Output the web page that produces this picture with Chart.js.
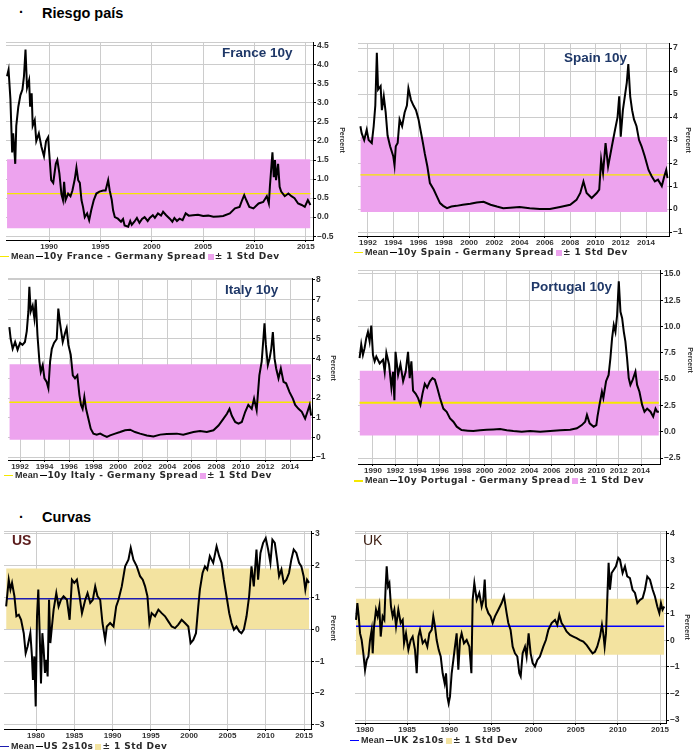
<!DOCTYPE html>
<html>
<head>
<meta charset="utf-8">
<script src="https://cdn.jsdelivr.net/npm/chart.js@4.4.1/dist/chart.umd.min.js"></script>
<style>
body { margin: 0; width: 698px; height: 753px; position: relative; overflow: hidden; background: #fff; font-family: "Liberation Sans", Arial, sans-serif; }
canvas { position: absolute; }
.head { position: absolute; font-weight: bold; font-size: 14.5px; color: #000; line-height: 1; white-space: nowrap; }
.ttl { position: absolute; font-weight: bold; font-size: 13.5px; color: #1f3868; white-space: nowrap; line-height: 1; }
.leg { position: absolute; font-family: "DejaVu Sans", sans-serif; font-weight: bold; font-size: 9px; letter-spacing: 0.45px; color: #2a2a2a; white-space: nowrap; line-height: 1; }
.leg b { font-family: "Liberation Sans", Arial, sans-serif; font-size: 9px; letter-spacing: 0.1px; margin: 0 2px; }
.leg i { display: inline-block; vertical-align: middle; }
.leg i.ln { width: 9px; height: 1.5px; }
.leg i.sq { width: 6px; height: 6px; margin: 0 1px 0 2px; }
.pct { position: absolute; font-size: 7px; font-weight: bold; color: #333; line-height: 1; transform: translate(-50%, -50%) rotate(90deg); }
</style>
</head>
<body>
<div class="head" style="left:19px;top:5px">·</div>
<div class="head" style="left:42px;top:6px">Riesgo país</div>
<div class="head" style="left:19px;top:510px">·</div>
<div class="head" style="left:42px;top:510px">Curvas</div>

<canvas id="france"></canvas>
<canvas id="spain"></canvas>
<canvas id="italy"></canvas>
<canvas id="portugal"></canvas>
<canvas id="us"></canvas>
<canvas id="uk"></canvas>

<div class="ttl" style="left:222px;top:46px">France 10y</div>
<div class="ttl" style="left:564px;top:51px">Spain 10y</div>
<div class="ttl" style="left:225px;top:283px">Italy 10y</div>
<div class="ttl" style="left:531px;top:280px">Portugal 10y</div>
<div class="ttl" style="left:12px;top:533px;color:#5b1c1c;font-size:14px">US</div>
<div class="ttl" style="left:363px;top:533px;color:#3b1c10;font-size:14px;font-weight:normal">UK</div>

<div class="pct" style="left:342px;top:140px">Percent</div>
<div class="pct" style="left:688px;top:140px">Percent</div>
<div class="pct" style="left:333px;top:368px">Percent</div>
<div class="pct" style="left:690px;top:360px">Percent</div>
<div class="pct" style="left:333px;top:628px">Percent</div>
<div class="pct" style="left:687px;top:627px">Percent</div>

<div class="leg" style="left:0;top:252px"><i class="ln" style="height:1px;background:#f5e800"></i><b>Mean</b><i class="ln" style="width:7px;background:#000"></i>10y France - Germany Spread<i class="sq" style="background:#eda3ee"></i>± 1 Std Dev</div>
<div class="leg" style="left:354px;top:248px"><i class="ln" style="height:1px;background:#f5e800"></i><b>Mean</b><i class="ln" style="width:7px;background:#000"></i>10y Spain - Germany Spread<i class="sq" style="background:#eda3ee"></i>± 1 Std Dev</div>
<div class="leg" style="left:4px;top:471px"><i class="ln" style="background:#f5e800"></i><b>Mean</b><i class="ln" style="width:7px;background:#000"></i>10y Italy - Germany Spread<i class="sq" style="background:#eda3ee"></i>± 1 Std Dev</div>
<div class="leg" style="left:354px;top:476px"><i class="ln" style="height:2px;background:#f5e800"></i><b>Mean</b><i class="ln" style="width:7px;background:#000"></i>10y Portugal - Germany Spread<i class="sq" style="background:#eda3ee"></i>± 1 Std Dev</div>
<div class="leg" style="left:0;top:742px"><i class="ln" style="background:#1c1cb0"></i><b>Mean</b><i class="ln" style="width:7px;background:#000"></i>US 2s10s<i class="sq" style="background:#f3e3a0"></i>± 1 Std Dev</div>
<div class="leg" style="left:350px;top:736px"><i class="ln" style="background:#0000ff"></i><b>Mean</b><i class="ln" style="width:7px;background:#000"></i>UK 2s10s<i class="sq" style="background:#f3e3a0"></i>± 1 Std Dev</div>

<script>
// ---- data: [year, value] ----
const franceSpread = [[1985.9,3.7],[1986.05,3.87],[1986.23,3.1],[1986.4,1.7],[1986.5,2.2],[1986.7,1.4],[1986.8,2.4],[1987.0,2.9],[1987.2,3.2],[1987.4,3.35],[1987.55,3.7],[1987.7,4.4],[1987.85,3.4],[1988.05,3.6],[1988.15,2.9],[1988.3,3.25],[1988.4,2.4],[1988.6,2.55],[1988.75,2.0],[1989.0,2.2],[1989.25,1.85],[1989.5,1.6],[1989.7,2.0],[1989.9,2.1],[1990.06,1.5],[1990.2,0.97],[1990.4,0.9],[1990.65,1.4],[1990.8,1.5],[1991.0,1.15],[1991.2,0.6],[1991.35,0.45],[1991.46,0.93],[1991.6,0.45],[1991.85,0.62],[1992.08,0.55],[1992.27,0.7],[1992.5,1.0],[1992.66,1.3],[1992.83,0.97],[1992.99,0.9],[1993.15,0.45],[1993.3,0.27],[1993.47,0.0],[1993.7,0.1],[1993.9,-0.08],[1994.1,0.18],[1994.35,0.45],[1994.6,0.62],[1994.9,0.67],[1995.26,0.7],[1995.5,0.7],[1995.75,0.97],[1995.9,0.7],[1996.1,0.45],[1996.23,0.18],[1996.4,0.0],[1996.7,-0.04],[1997.0,-0.12],[1997.2,-0.05],[1997.35,-0.22],[1997.7,-0.25],[1997.9,-0.1],[1998.05,-0.2],[1998.3,-0.12],[1998.55,-0.02],[1998.8,-0.15],[1999.05,-0.05],[1999.3,0.0],[1999.6,-0.1],[1999.8,-0.02],[2000.1,0.05],[2000.3,-0.02],[2000.6,0.1],[2000.9,0.04],[2001.1,0.14],[2001.4,0.05],[2001.75,-0.04],[2002.0,-0.12],[2002.2,-0.02],[2002.45,-0.1],[2002.7,-0.04],[2003.0,-0.08],[2003.3,0.1],[2003.6,0.04],[2004.0,0.05],[2004.5,0.06],[2005.0,0.03],[2005.5,0.04],[2006.0,0.01],[2006.5,0.02],[2006.95,0.03],[2007.6,0.1],[2008.1,0.23],[2008.55,0.27],[2008.8,0.45],[2009.0,0.58],[2009.2,0.45],[2009.5,0.27],[2009.9,0.23],[2010.4,0.36],[2010.85,0.4],[2011.2,0.55],[2011.4,0.36],[2011.5,0.8],[2011.75,1.7],[2011.88,1.05],[2012.0,1.5],[2012.1,0.97],[2012.3,1.4],[2012.45,0.8],[2012.6,0.67],[2012.95,0.55],[2013.3,0.62],[2013.6,0.55],[2013.9,0.5],[2014.25,0.36],[2014.6,0.32],[2014.9,0.27],[2015.2,0.45],[2015.45,0.32]];

const spainSpread = [[1991.4,3.6],[1991.5,3.3],[1991.7,3.0],[1991.9,3.45],[1992.05,3.0],[1992.3,2.87],[1992.45,3.6],[1992.58,4.5],[1992.7,6.8],[1992.8,5.2],[1993.0,5.35],[1993.1,4.3],[1993.25,4.9],[1993.4,4.2],[1993.55,3.2],[1993.75,2.73],[1994.0,2.3],[1994.1,1.9],[1994.2,2.73],[1994.35,2.87],[1994.5,3.9],[1994.7,3.6],[1994.9,4.2],[1995.08,4.5],[1995.2,5.25],[1995.4,4.75],[1995.6,4.5],[1995.8,4.3],[1996.0,3.9],[1996.1,3.6],[1996.35,2.87],[1996.5,2.4],[1996.7,1.85],[1996.9,1.13],[1997.2,0.85],[1997.45,0.55],[1997.7,0.26],[1997.95,0.14],[1998.25,0.04],[1998.6,0.11],[1999.0,0.14],[1999.5,0.19],[2000.1,0.23],[2000.6,0.29],[2001.15,0.32],[2001.7,0.19],[2002.2,0.11],[2002.7,0.04],[2003.25,0.06],[2004.0,0.09],[2004.8,0.04],[2005.6,0.0],[2006.4,0.0],[2007.2,0.09],[2008.0,0.19],[2008.5,0.4],[2008.8,0.7],[2009.05,1.2],[2009.3,0.7],[2009.7,0.48],[2010.1,0.7],[2010.3,0.85],[2010.45,2.15],[2010.6,1.57],[2010.8,2.87],[2011.0,1.85],[2011.3,2.73],[2011.55,3.45],[2011.75,4.0],[2011.88,4.9],[2012.0,3.15],[2012.17,4.3],[2012.35,5.0],[2012.48,5.5],[2012.6,6.3],[2012.75,4.9],[2012.9,4.3],[2013.05,3.9],[2013.25,3.6],[2013.45,3.0],[2013.65,2.73],[2013.9,2.3],[2014.2,1.7],[2014.45,1.43],[2014.7,1.2],[2014.95,1.28],[2015.25,1.0],[2015.45,1.43],[2015.6,1.7],[2015.7,1.35]];

const italySpread = [[1991.13,5.6],[1991.24,5.0],[1991.4,4.5],[1991.6,4.85],[1991.8,4.45],[1992.0,4.8],[1992.2,4.7],[1992.4,4.85],[1992.55,5.4],[1992.68,6.4],[1992.76,7.65],[1992.87,6.4],[1993.03,6.7],[1993.17,6.05],[1993.28,7.0],[1993.42,5.2],[1993.58,3.85],[1993.69,3.33],[1993.85,3.67],[1993.99,3.0],[1994.17,2.82],[1994.31,2.5],[1994.45,3.85],[1994.59,4.5],[1994.77,4.8],[1994.99,5.0],[1995.12,6.55],[1995.26,5.8],[1995.48,4.85],[1995.67,5.3],[1995.8,5.55],[1995.94,4.7],[1996.13,4.2],[1996.3,3.15],[1996.48,3.0],[1996.67,3.15],[1996.84,2.15],[1996.97,1.65],[1997.1,1.45],[1997.24,2.05],[1997.38,1.45],[1997.57,0.95],[1997.76,0.44],[1997.98,0.19],[1998.25,0.14],[1998.53,0.19],[1998.8,0.1],[1999.08,0.02],[1999.34,0.1],[1999.75,0.19],[2000.15,0.27],[2000.56,0.36],[2000.97,0.39],[2001.37,0.27],[2001.78,0.19],[2002.33,0.1],[2002.87,0.05],[2003.42,0.14],[2003.96,0.17],[2004.78,0.19],[2005.3,0.14],[2006.13,0.27],[2006.67,0.32],[2007.22,0.27],[2007.76,0.36],[2008.17,0.6],[2008.58,0.95],[2008.86,1.2],[2009.07,1.45],[2009.26,1.1],[2009.53,0.78],[2009.8,0.7],[2010.07,0.78],[2010.35,1.3],[2010.6,1.65],[2010.88,1.45],[2011.07,1.97],[2011.28,1.38],[2011.5,3.15],[2011.69,3.85],[2011.84,5.1],[2011.92,5.8],[2012.03,4.7],[2012.19,3.67],[2012.33,4.0],[2012.47,4.5],[2012.6,5.35],[2012.74,4.0],[2012.87,3.5],[2013.06,3.0],[2013.25,3.5],[2013.47,2.82],[2013.68,2.75],[2013.96,2.3],[2014.23,1.97],[2014.42,1.65],[2014.69,1.45],[2014.96,1.3],[2015.23,0.95],[2015.42,1.3],[2015.6,1.65],[2015.72,1.1]];

const portugalSpread = [[1988.8,7.0],[1988.95,8.3],[1989.1,7.3],[1989.25,7.95],[1989.4,8.9],[1989.55,9.5],[1989.7,8.6],[1989.85,10.1],[1990.0,7.3],[1990.15,6.7],[1990.3,7.15],[1990.6,6.5],[1990.9,6.85],[1991.05,5.7],[1991.2,7.5],[1991.44,6.4],[1991.65,4.2],[1991.8,5.7],[1991.92,3.0],[1992.02,7.6],[1992.25,5.4],[1992.46,6.4],[1992.7,4.8],[1992.93,5.7],[1993.14,7.6],[1993.29,5.1],[1993.44,6.7],[1993.59,3.9],[1993.83,3.6],[1994.04,3.2],[1994.25,2.55],[1994.43,3.6],[1994.64,4.55],[1994.85,4.2],[1995.1,4.8],[1995.33,5.1],[1995.54,4.95],[1995.75,4.2],[1996.0,3.2],[1996.3,2.2],[1996.6,1.9],[1996.9,1.27],[1997.2,0.95],[1997.5,0.48],[1997.93,0.16],[1998.5,0.1],[1998.98,0.06],[1999.6,0.13],[2000.18,0.19],[2000.78,0.22],[2001.38,0.25],[2001.98,0.13],[2002.57,0.06],[2003.32,0.0],[2004.07,0.06],[2004.97,0.0],[2005.87,0.06],[2006.77,0.13],[2007.66,0.19],[2008.26,0.32],[2008.7,0.63],[2009.0,0.95],[2009.16,1.6],[2009.4,0.8],[2009.76,0.48],[2010.0,0.63],[2010.1,1.43],[2010.28,2.55],[2010.5,3.8],[2010.63,3.2],[2010.87,4.8],[2011.1,5.4],[2011.26,7.0],[2011.41,8.9],[2011.56,10.15],[2011.71,9.5],[2011.86,11.1],[2012.01,14.3],[2012.16,11.4],[2012.31,10.8],[2012.46,9.5],[2012.6,8.6],[2012.75,7.0],[2012.9,5.1],[2013.05,4.45],[2013.26,4.95],[2013.5,5.7],[2013.65,4.45],[2013.86,3.8],[2014.1,2.55],[2014.31,1.9],[2014.55,2.2],[2014.85,1.9],[2015.09,1.43],[2015.3,2.2],[2015.45,1.9],[2015.6,1.9]];

const usCurve = [[1976.1,0.72],[1976.44,1.56],[1976.66,1.25],[1976.87,1.46],[1977.18,1.04],[1977.44,0.41],[1977.75,0.46],[1978.05,0.3],[1978.4,-0.12],[1978.65,-0.75],[1978.9,-0.54],[1979.26,-0.12],[1979.47,-0.85],[1979.6,-1.59],[1979.78,-0.85],[1979.96,-2.42],[1980.13,0.41],[1980.3,1.25],[1980.48,-0.12],[1980.65,-1.7],[1980.83,-0.12],[1981.0,-0.64],[1981.17,-1.37],[1981.35,-0.96],[1981.52,-1.48],[1981.7,0.93],[1981.87,-0.43],[1982.08,0.09],[1982.3,0.62],[1982.65,1.14],[1982.95,0.72],[1983.26,0.93],[1983.6,1.04],[1984.04,0.93],[1984.39,0.3],[1984.69,1.56],[1985.0,1.46],[1985.34,1.56],[1985.69,1.04],[1986.0,0.51],[1986.43,0.93],[1986.73,1.14],[1987.08,0.83],[1987.42,0.93],[1987.73,1.35],[1988.03,1.04],[1988.38,0.93],[1988.68,0.2],[1989.03,-0.33],[1989.25,0.09],[1989.68,0.2],[1990.12,0.09],[1990.47,0.72],[1990.77,0.93],[1991.2,1.35],[1991.64,1.98],[1992.07,2.19],[1992.37,2.56],[1992.72,2.19],[1993.16,1.98],[1993.59,1.67],[1993.94,1.56],[1994.24,1.35],[1994.55,1.04],[1994.81,0.2],[1995.1,0.51],[1995.54,0.41],[1995.98,0.62],[1996.41,0.51],[1996.85,0.41],[1997.28,0.25],[1997.72,0.09],[1998.15,0.04],[1998.58,0.15],[1999.02,0.3],[1999.45,0.2],[1999.89,0.09],[2000.19,-0.43],[2000.54,-0.33],[2000.89,-0.12],[2001.19,0.72],[2001.4,1.25],[2001.75,1.77],[2002.06,1.98],[2002.36,1.88],[2002.7,2.3],[2003.14,2.09],[2003.58,2.61],[2003.92,2.3],[2004.23,2.09],[2004.53,1.56],[2004.88,1.04],[2005.23,0.51],[2005.53,0.2],[2005.84,-0.01],[2006.18,0.09],[2006.53,-0.06],[2006.83,-0.12],[2007.14,-0.01],[2007.49,0.41],[2007.83,1.04],[2008.14,1.98],[2008.44,1.35],[2008.79,2.51],[2009.0,1.56],[2009.31,2.4],[2009.66,2.72],[2010.0,2.87],[2010.31,2.51],[2010.61,2.09],[2010.87,2.82],[2011.18,2.72],[2011.48,2.19],[2011.74,1.67],[2012.05,1.88],[2012.35,1.46],[2012.7,1.56],[2013.04,1.77],[2013.34,2.19],[2013.65,2.51],[2014.0,2.4],[2014.35,2.09],[2014.65,1.98],[2014.95,1.67],[2015.17,1.25],[2015.39,1.56],[2015.65,1.46]];

const ukCurve = [[1978.93,0.77],[1979.09,1.4],[1979.25,0.9],[1979.41,0.26],[1979.6,0.01],[1979.8,-0.49],[1980.0,-1.11],[1980.2,-0.74],[1980.4,-0.61],[1980.59,0.01],[1980.79,0.39],[1980.91,-0.49],[1981.07,0.52],[1981.3,1.15],[1981.5,0.9],[1981.7,1.27],[1981.86,0.14],[1982.09,0.9],[1982.29,0.77],[1982.45,2.03],[1982.57,2.78],[1982.73,2.03],[1982.89,2.15],[1983.08,1.27],[1983.28,0.9],[1983.48,1.15],[1983.68,0.52],[1983.95,1.15],[1984.23,0.65],[1984.47,0.77],[1984.63,-0.11],[1984.86,0.26],[1985.14,-0.36],[1985.42,0.01],[1985.65,0.14],[1985.93,-0.36],[1986.13,-1.24],[1986.33,0.14],[1986.52,0.39],[1986.84,-0.11],[1987.12,0.01],[1987.39,-0.24],[1987.63,0.26],[1987.91,0.39],[1988.1,0.9],[1988.3,0.52],[1988.5,0.01],[1988.74,-0.36],[1988.98,-0.61],[1989.21,-1.24],[1989.45,-1.62],[1989.61,-1.24],[1989.77,-2.12],[1989.92,-2.37],[1990.08,-2.12],[1990.28,-1.24],[1990.48,-0.74],[1990.67,-0.24],[1990.87,0.26],[1991.07,-1.11],[1991.27,0.01],[1991.46,0.26],[1991.74,-0.11],[1992.06,0.01],[1992.38,-0.24],[1992.62,-1.24],[1992.77,1.52],[1992.97,2.15],[1993.25,1.52],[1993.56,1.78],[1993.84,1.27],[1994.03,1.52],[1994.2,2.28],[1994.35,1.27],[1994.63,1.02],[1994.9,0.9],[1995.14,0.65],[1995.42,0.9],[1995.82,1.15],[1996.21,1.4],[1996.49,1.65],[1996.8,1.02],[1997.0,0.65],[1997.27,0.39],[1997.52,-0.24],[1997.79,-0.49],[1998.07,-0.61],[1998.31,-1.24],[1998.47,-1.36],[1998.7,-0.49],[1998.98,-0.24],[1999.17,-0.61],[1999.41,0.26],[1999.65,-0.49],[1999.89,-0.86],[2000.16,-0.99],[2000.44,-0.74],[2000.75,-0.61],[2001.15,-0.24],[2001.46,0.01],[2001.75,0.39],[2002.14,0.65],[2002.54,0.77],[2002.81,0.58],[2003.05,0.96],[2003.32,0.65],[2003.6,0.52],[2003.91,0.33],[2004.32,0.2],[2004.71,0.14],[2005.1,0.08],[2005.5,0.01],[2005.9,-0.05],[2006.3,-0.18],[2006.69,-0.36],[2007.0,-0.49],[2007.28,-0.43],[2007.55,-0.24],[2007.88,0.14],[2008.11,0.58],[2008.27,0.26],[2008.43,-0.24],[2008.59,0.26],[2008.74,1.52],[2008.9,2.91],[2009.06,1.9],[2009.26,2.53],[2009.53,2.66],[2009.77,2.78],[2010.05,3.1],[2010.25,3.03],[2010.56,2.53],[2010.84,2.78],[2011.11,2.4],[2011.43,2.34],[2011.74,1.9],[2012.03,1.78],[2012.31,1.4],[2012.62,1.52],[2012.94,1.59],[2013.21,1.9],[2013.49,2.4],[2013.81,2.28],[2014.13,1.9],[2014.4,1.65],[2014.68,1.27],[2014.92,1.02],[2015.11,1.4],[2015.3,1.15],[2015.5,1.27]];

// mean and +/- 1 std dev band [low, high]
const franceMean = 0.62, franceBand = [-0.29, 1.52];
const spainMean = 1.49, spainBand = [-0.13, 3.13];
const italyMean = 1.79, italyBand = [-0.12, 3.72];
const portugalMean = 2.76, portugalBand = [-0.37, 5.79];
const usMean = 0.96, usBand = [0.01, 1.91];
const ukMean = 0.53, ukBand = [-0.54, 1.56];

// tick values
const franceXTicks = [1990, 1995, 2000, 2005, 2010, 2015];
const franceYTicks = [-0.5, 0, 0.5, 1, 1.5, 2, 2.5, 3, 3.5, 4, 4.5];
const euroXTicks = [1992, 1994, 1996, 1998, 2000, 2002, 2004, 2006, 2008, 2010, 2012, 2014];
const spainYTicks = [-1, 0, 1, 2, 3, 4, 5, 6, 7];
const italyYTicks = [-1, 0, 1, 2, 3, 4, 5, 6, 7, 8];
const portugalXTicks = [1990, 1992, 1994, 1996, 1998, 2000, 2002, 2004, 2006, 2008, 2010, 2012, 2014];
const portugalYTicks = [-2.5, 0, 2.5, 5, 7.5, 10, 12.5, 15];
const curveXTicks = [1980, 1985, 1990, 1995, 2000, 2005, 2010, 2015];
const usYTicks = [-3, -2, -1, 0, 1, 2, 3];
const ukYTicks = [-3, -2, -1, 0, 1, 2, 3, 4];

const PAD = 10, Y_AXIS_W = 30, X_AXIS_H = 14;

const topLine = {
    id: "topLine",
    beforeDatasetsDraw(chart) {
        const a = chart.chartArea, ctx = chart.ctx;
        ctx.save();
        ctx.strokeStyle = "#cccccc";
        ctx.lineWidth = 1;
        ctx.beginPath();
        ctx.moveTo(a.left, a.top + 0.5);
        ctx.lineTo(a.right, a.top + 0.5);
        ctx.stroke();
        ctx.restore();
    }
};

function fmt(v, dec) {
    return v.toFixed(dec).replace("-", "\u2013");
}

function drawPanel(id, p) {
    const canvas = document.getElementById(id);
    const w = (p.right - p.left) + Y_AXIS_W + 2 * PAD;
    const h = (p.bottom - p.top) + X_AXIS_H + 2 * PAD;
    canvas.width = w;
    canvas.height = h;
    canvas.style.left = (p.left - PAD) + "px";
    canvas.style.top = (p.top - PAD) + "px";

    const x0 = p.series[0][0], x1 = p.series[p.series.length - 1][0];

    new Chart(canvas, {
        type: "line",
        data: {
            datasets: [
                {
                    data: p.series.map(d => ({ x: d[0], y: d[1] })),
                    borderColor: "#000", borderWidth: 2, pointRadius: 0, fill: false, tension: 0
                },
                {
                    data: [{ x: x0, y: p.mean }, { x: x1, y: p.mean }],
                    borderColor: p.meanColor, borderWidth: p.meanWidth, pointRadius: 0, fill: false
                },
                {
                    data: [{ x: x0, y: p.band[1] }, { x: x1, y: p.band[1] }],
                    borderColor: "rgba(0,0,0,0)", borderWidth: 0, pointRadius: 0,
                    backgroundColor: p.bandColor, fill: { value: p.band[0] }
                }
            ]
        },
        options: {
            responsive: false,
            animation: false,
            events: [],
            layout: { padding: PAD },
            plugins: { legend: { display: false }, tooltip: { enabled: false } },
            scales: {
                x: {
                    type: "linear", min: p.xMin, max: p.xMax,
                    afterBuildTicks: s => { s.ticks = p.xTicks.map(v => ({ value: v })); },
                    afterFit: s => { s.height = X_AXIS_H; },
                    grid: { color: "#cccccc", tickColor: "#000", tickLength: 2 },
                    border: { color: "#000" },
                    ticks: {
                        font: { family: "Liberation Sans", size: 8, weight: "bold" }, color: "#333",
                        padding: 0, maxRotation: 0, autoSkip: false, callback: v => String(v)
                    }
                },
                y: {
                    position: "right", min: p.yMin, max: p.yMax,
                    afterBuildTicks: s => { s.ticks = p.yTicks.map(v => ({ value: v })); },
                    afterFit: s => { s.width = Y_AXIS_W; },
                    grid: { color: "#cccccc", tickColor: "#000", tickLength: 3 },
                    border: { color: "#000" },
                    ticks: {
                        font: { family: "Liberation Sans", size: 8.5, weight: "bold" }, color: "#333",
                        padding: 1, autoSkip: false, callback: v => fmt(v, p.dec)
                    }
                }
            }
        },
        plugins: [topLine]
    });
}

const PINK = "#eda3ee", SAND = "#f3e3a0", YELLOW = "#f5e800";

drawPanel("france", { left: 6, right: 313, top: 42, bottom: 240, xMin: 1985.8, xMax: 2015.7, yMin: -0.6, yMax: 4.6,
    series: franceSpread, mean: franceMean, band: franceBand, xTicks: franceXTicks, yTicks: franceYTicks, dec: 1,
    meanColor: YELLOW, meanWidth: 1.2, bandColor: PINK });
drawPanel("spain", { left: 358, right: 669, top: 43, bottom: 236, xMin: 1991.21, xMax: 2015.82, yMin: -1.17, yMax: 7.22,
    series: spainSpread, mean: spainMean, band: spainBand, xTicks: euroXTicks, yTicks: spainYTicks, dec: 0,
    meanColor: YELLOW, meanWidth: 1.2, bandColor: PINK });
drawPanel("italy", { left: 8, right: 312, top: 278, bottom: 460, xMin: 1991.02, xMax: 2015.79, yMin: -1.15, yMax: 8.1,
    series: italySpread, mean: italyMean, band: italyBand, xTicks: euroXTicks, yTicks: italyYTicks, dec: 0,
    meanColor: YELLOW, meanWidth: 1.5, bandColor: PINK });
drawPanel("portugal", { left: 358, right: 660, top: 270, bottom: 464, xMin: 1988.66, xMax: 2015.7, yMin: -3.07, yMax: 15.38,
    series: portugalSpread, mean: portugalMean, band: portugalBand, xTicks: portugalXTicks, yTicks: portugalYTicks, dec: 1,
    meanColor: YELLOW, meanWidth: 2, bandColor: PINK });
drawPanel("us", { left: 4, right: 311, top: 531, bottom: 729, xMin: 1975.82, xMax: 2015.91, yMin: -3.13, yMax: 3.09,
    series: usCurve, mean: usMean, band: usBand, xTicks: curveXTicks, yTicks: usYTicks, dec: 0,
    meanColor: "#1c1cb0", meanWidth: 1.5, bandColor: SAND });
drawPanel("uk", { left: 355, right: 666, top: 531, bottom: 723, xMin: 1978.81, xMax: 2015.71, yMin: -3.11, yMax: 4.11,
    series: ukCurve, mean: ukMean, band: ukBand, xTicks: curveXTicks, yTicks: ukYTicks, dec: 0,
    meanColor: "#0000ff", meanWidth: 1.5, bandColor: SAND });
</script>
</body>
</html>
